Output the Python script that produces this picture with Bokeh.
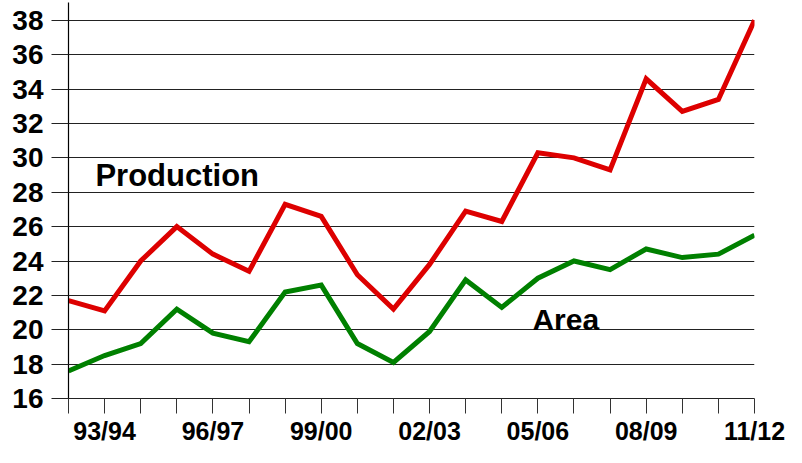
from bokeh.plotting import figure
from bokeh.models import FixedTicker, Label, Range1d
from bokeh.embed import file_html
from bokeh.resources import INLINE

seasons = ["92/93", "93/94", "94/95", "95/96", "96/97", "97/98", "98/99", "99/00",
           "00/01", "01/02", "02/03", "03/04", "04/05", "05/06", "06/07", "07/08",
           "08/09", "09/10", "10/11", "11/12"]
production = [21.7, 21.1, 24.0, 26.0, 24.4, 23.4, 27.3, 26.6, 23.2, 21.2,
              23.8, 26.9, 26.3, 30.3, 30.0, 29.3, 34.6, 32.7, 33.4, 38.0]
area = [17.6, 18.5, 19.2, 21.2, 19.8, 19.3, 22.2, 22.6, 19.2, 18.1,
        19.9, 22.9, 21.3, 23.0, 24.0, 23.5, 24.7, 24.2, 24.4, 25.5]
y_ticks = [16, 18, 20, 22, 24, 26, 28, 30, 32, 34, 36, 38]
shown_labels = ["93/94", "96/97", "99/00", "02/03", "05/06", "08/09", "11/12"]

xs = list(range(len(seasons)))

p = figure(width=786, height=447, output_backend="svg", toolbar_location=None,
           x_range=Range1d(0, len(seasons) - 1), y_range=Range1d(16, 39.04),
           min_border_left=68, min_border_right=32, min_border_top=2,
           min_border_bottom=46)
p.outline_line_color = None
p.background_fill_color = "white"

# grid
p.xgrid.visible = False
p.ygrid.ticker = FixedTicker(ticks=y_ticks)
p.ygrid.grid_line_color = "#222222"
p.ygrid.grid_line_width = 1.2

# y axis
p.yaxis.ticker = FixedTicker(ticks=y_ticks)
p.yaxis.major_tick_out = 17
p.yaxis.major_tick_in = 0
p.yaxis.minor_tick_out = 0
p.yaxis.minor_tick_in = 0
p.yaxis.major_tick_line_color = "#222222"
p.yaxis.axis_line_color = "black"
p.yaxis.axis_line_width = 1.2
p.yaxis.major_label_text_font = "Liberation Sans"
p.yaxis.major_label_text_font_style = "bold"
p.yaxis.major_label_text_font_size = "28px"
p.yaxis.major_label_text_color = "black"
p.yaxis.major_label_standoff = 8

# x axis
p.xaxis.ticker = FixedTicker(ticks=xs)
p.xaxis.major_label_overrides = {i: (s if s in shown_labels else "") for i, s in enumerate(seasons)}
p.xaxis.major_tick_out = 15
p.xaxis.major_tick_in = 0
p.xaxis.minor_tick_out = 0
p.xaxis.major_tick_line_color = "#333333"
p.xaxis.axis_line_color = "#222222"
p.xaxis.axis_line_width = 1.2
p.xaxis.major_label_text_font = "Liberation Sans"
p.xaxis.major_label_text_font_style = "bold"
p.xaxis.major_label_text_font_size = "25px"
p.xaxis.major_label_text_color = "black"
p.xaxis.major_label_standoff = 3

p.line(xs, production, line_color="#DD0000", line_width=5, line_join="miter")
p.line(xs, area, line_color="#008000", line_width=5, line_join="miter")

p.add_layout(Label(x=0.746, y=29.0, text="Production", text_font="Liberation Sans",
                   text_font_style="bold", text_font_size="31px", text_color="black",
                   text_baseline="alphabetic"))
p.add_layout(Label(x=12.85, y=20.6, text="Area", text_font="Liberation Sans",
                   text_font_style="bold", text_font_size="30px", text_color="black",
                   text_baseline="alphabetic"))

open("out.html", "w").write(file_html(p, INLINE))
